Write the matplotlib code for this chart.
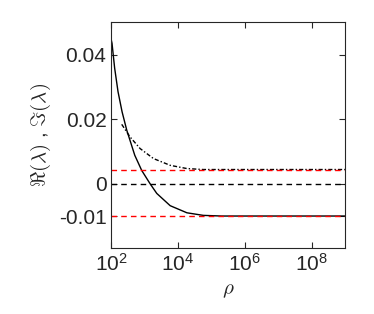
import numpy as np
import matplotlib
matplotlib.use("Agg")
import matplotlib.pyplot as plt

# values
rho_re = [100, 105, 126, 159, 210, 290, 505, 816, 1450, 2300, 5800, 18400, 57000, 2e5, 1e6, 1e9]
re_vals = [0.0445, 0.0435, 0.0358, 0.0285, 0.0223, 0.0166, 0.0088, 0.0041, 0.0,
           -0.0030, -0.0068, -0.0090, -0.0098, -0.0100, -0.0100, -0.0100]

rho_im = [205, 364, 728, 1830, 5800, 18400, 57000, 2e5, 1e6, 1e9]
im_vals = [0.0184, 0.0145, 0.0109, 0.0078, 0.0057, 0.0047, 0.0044, 0.0044, 0.0044, 0.0044]

re_limit = -0.0101
im_limit = 0.0042

xticks = [1e2, 1e4, 1e6, 1e8]
yticks = [-0.01, 0, 0.02, 0.04]
ytick_labels = ["-0.01", "0", "0.02", "0.04"]

plt.rcParams["font.family"] = "Liberation Sans"
plt.rcParams["mathtext.fontset"] = "cm"

fig = plt.figure(figsize=(3.74, 3.14), dpi=100)
ax = fig.add_axes([0.2976, 0.2092, 0.6249, 0.7198])

ax.plot(rho_re, re_vals, color="black", linewidth=1.0)
ax.plot(rho_im, im_vals, color="black", linewidth=1.0, linestyle="-.", dashes=(3, 1.5, 1, 1.5))
ax.axhline(0, color="black", linestyle="--", linewidth=1.0, dashes=(4, 3))
ax.axhline(im_limit, color="red", linestyle="--", linewidth=1.0, dashes=(4, 3))
ax.axhline(re_limit, color="red", linestyle="--", linewidth=1.0, dashes=(4, 3))

ax.set_xscale("log")
ax.set_xlim(1e2, 1e9)
ax.set_ylim(-0.02, 0.05)
ax.set_xticks(xticks)
ax.set_yticks(yticks)
ax.set_yticklabels(ytick_labels)

ax.tick_params(direction="in", which="both", top=True, right=True, labelsize=15,
               colors="0.15", labelcolor="0.15", length=4)
ax.tick_params(which="minor", length=2)
for axis in ["top", "bottom", "left", "right"]:
    ax.spines[axis].set_color("0.15")
    ax.spines[axis].set_linewidth(0.8)

ax.set_xlabel(r"$\rho$", fontsize=15, color="0.15")
ax.set_ylabel(r"$\Re(\lambda)$ , $\Im(\lambda)$", fontsize=15, color="0.15")

fig.savefig("out.png", dpi=100)
